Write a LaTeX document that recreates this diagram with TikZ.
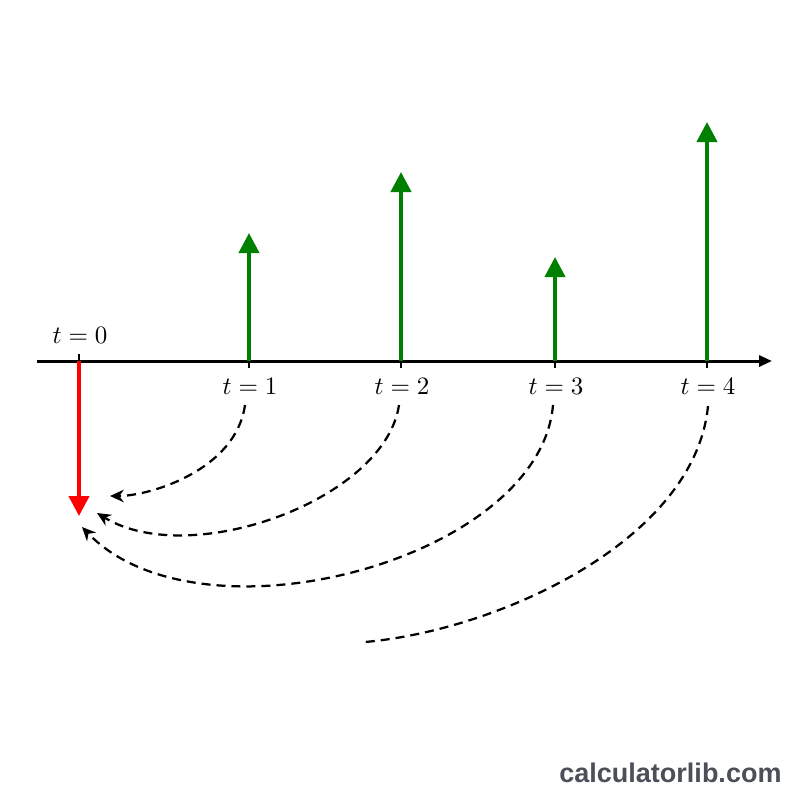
\documentclass[tikz,border=0pt]{standalone}
\usepackage{fontspec}
\newfontfamily\wmfont{Liberation Sans}
\usetikzlibrary{arrows.meta}
\definecolor{darkgreen}{RGB}{0,128,0}
\definecolor{wmgray}{RGB}{74,79,88}
\tikzset{
  axisline/.style={line width=1.2pt,-{Triangle[length=5.2pt,width=4.4pt]}},
  tickmark/.style={line width=0.8pt},
  cashin/.style={darkgreen,line width=1.6pt,-{Triangle[length=8pt,width=8pt]}},
  cashout/.style={red,line width=1.6pt,-{Triangle[length=8pt,width=8pt]}},
  discount/.style={line width=0.9pt,dash pattern=on 3.6pt off 2.4pt,-{Stealth[length=5.5pt,width=5pt]}},
  discountfree/.style={line width=0.9pt,dash pattern=on 3.6pt off 2.4pt},
  tlabel/.style={inner sep=1pt}
}
\begin{document}
\begin{tikzpicture}[x=0.4pt,y=-0.4pt]
\useasboundingbox (0,0) rectangle (800,800);
% axis
\coordinate (axstart) at (37,361);
\coordinate (axend) at (772,361);
\draw[axisline] (axstart) -- (axend);
% tick positions
\foreach \n/\x in {0/79,1/249,2/401,3/555,4/707}{
  \coordinate (t\n) at (\x,361);
  \coordinate (tt\n) at (\x,354);
  \coordinate (tb\n) at (\x,368);
  \draw[tickmark] (tt\n) -- (tb\n);
}
% labels
\node[tlabel] (l0) at (80,335) {$t=0$};
\node[tlabel] (l1) at (250,386) {$t=1$};
\node[tlabel] (l2) at (402,386) {$t=2$};
\node[tlabel] (l3) at (556,386) {$t=3$};
\node[tlabel] (l4) at (708,386) {$t=4$};
% cash flows
\coordinate (p1) at (249,233);
\coordinate (p2) at (401,172);
\coordinate (p3) at (555,257);
\coordinate (p4) at (707,122);
\coordinate (p0) at (79,516);
\draw[cashin] (t1) -- (p1);
\draw[cashin] (t2) -- (p2);
\draw[cashin] (t3) -- (p3);
\draw[cashin] (t4) -- (p4);
\draw[cashout] (t0) -- (p0);
% discount curves
\coordinate (s1) at (245,405);
\coordinate (s2) at (399,405);
\coordinate (s3) at (553,405);
\coordinate (s4) at (708,406);
\coordinate (e1) at (110,496);
\coordinate (e2) at (97,513);
\coordinate (e3) at (82,527);
\coordinate (e4) at (365,642);
\draw[discount] (s1) .. controls (236,470) and (150,496) .. (e1);
\draw[discount] (s2) .. controls (385,500) and (190,570) .. (e2);
\draw[discount] (s3) .. controls (540,560) and (200,650) .. (e3);
\draw[discountfree] (s4) .. controls (695,540) and (500,630) .. (e4);
% watermark
\node[anchor=east,text=wmgray,font=\wmfont\bfseries\fontsize{10.8pt}{13pt}\selectfont,inner sep=0pt] (wm) at (782,773) {calculatorlib.com};
\end{tikzpicture}
\end{document}
